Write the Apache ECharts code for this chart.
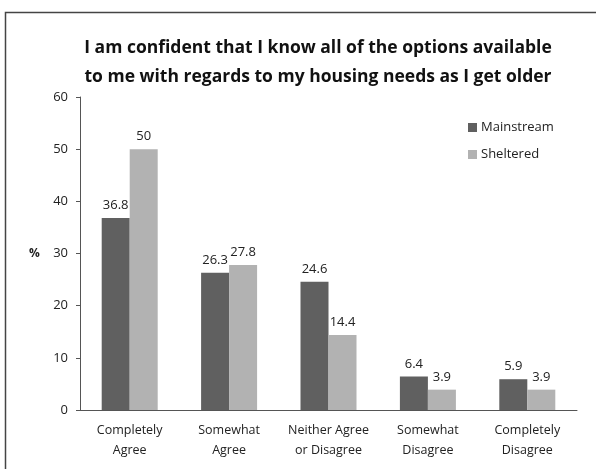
<!DOCTYPE html>
<html>
<head>
<meta charset="utf-8">
<script src="https://cdn.jsdelivr.net/npm/echarts@6/dist/echarts.min.js"></script>
<style>
  html, body { margin: 0; padding: 0; background: #fff; }
  #main { width: 596px; height: 469px; }
</style>
</head>
<body>
<div id="main"></div>
<script>
var categories = ['Completely\nAgree', 'Somewhat\nAgree', 'Neither Agree\nor Disagree', 'Somewhat\nDisagree', 'Completely\nDisagree'];
var mainstream = [36.8, 26.3, 24.6, 6.4, 5.9];
var sheltered = [50, 27.8, 14.4, 3.9, 3.9];
var titleLines = 'I am confident that I know all of the options available\nto me with regards to my housing needs as I get older';

var font = 'Open Sans';
var chart = echarts.init(document.getElementById('main'));

var labelOpt = {
    show: true,
    position: 'top',
    distance: 6,
    color: '#222',
    fontFamily: font,
    fontSize: 13
};

chart.setOption({
    animation: false,
    title: {
        text: titleLines,
        left: 313,
        textAlign: 'center',
        top: 29,
        textStyle: {
            fontFamily: font,
            fontWeight: 'bold',
            fontSize: 17.5,
            lineHeight: 29,
            color: '#111'
        }
    },
    graphic: [{
        type: 'rect',
        shape: { x: 5.5, y: 12.5, width: 620, height: 480 },
        style: { fill: 'none', stroke: '#444', lineWidth: 1.5 }
    }, {
        type: 'text',
        left: 29,
        top: 248,
        style: { text: '%', fontFamily: font, fontWeight: 'bold', fontSize: 12, fill: '#222' }
    }],
    legend: {
        orient: 'vertical',
        left: 463,
        top: 116,
        itemWidth: 9,
        itemHeight: 9,
        itemGap: 14,
        icon: 'rect',
        textStyle: { fontFamily: font, fontSize: 13, color: '#222', padding: [0, 0, 0, -1] },
        data: ['Mainstream', 'Sheltered']
    },
    grid: { left: 80, top: 97, right: 19, bottom: 59 },
    xAxis: {
        type: 'category',
        data: categories,
        axisLine: { lineStyle: { color: '#555', width: 1 } },
        axisTick: { show: false },
        axisLabel: { fontFamily: font, fontSize: 12.5, color: '#222', lineHeight: 20, margin: 10, interval: 0 }
    },
    yAxis: {
        type: 'value',
        min: 0,
        max: 60,
        interval: 10,
        splitLine: { show: false },
        axisLine: { show: true, lineStyle: { color: '#555', width: 1 } },
        axisTick: { show: true, length: 4, lineStyle: { color: '#555' } },
        axisLabel: { fontFamily: font, fontSize: 13, color: '#222', margin: 12 }
    },
    series: [{
        name: 'Mainstream',
        type: 'bar',
        data: mainstream,
        barWidth: 28,
        barGap: '0%',
        itemStyle: { color: '#606060' },
        label: labelOpt
    }, {
        name: 'Sheltered',
        type: 'bar',
        data: sheltered,
        barWidth: 28,
        itemStyle: { color: '#b2b2b2' },
        label: labelOpt
    }]
});
</script>
</body>
</html>
